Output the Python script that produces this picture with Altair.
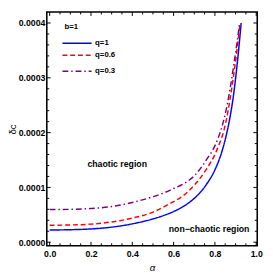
import altair as alt
import pandas as pd

# ---- data ----
alpha_q1 = [0, 0.1, 0.2, 0.3, 0.4, 0.5, 0.55, 0.6, 0.65, 0.7, 0.76, 0.8, 0.836, 0.858, 0.875, 0.89, 0.905, 0.916, 0.927]
delta_q1 = [22.3, 22.8, 24.2, 27.5, 33.5, 42.5, 48.5, 56, 66, 80, 106, 132, 168, 200, 232, 268, 315, 355, 400]

alpha_q06 = [0, 0.1, 0.2, 0.3, 0.4, 0.5, 0.56, 0.6, 0.65, 0.7, 0.76, 0.8, 0.82, 0.843, 0.858, 0.872, 0.889, 0.905, 0.922]
delta_q06 = [31, 31.5, 33, 37, 44, 55, 66, 74, 86, 104, 134, 160, 178, 203, 228, 258, 300, 345, 400]

alpha_q03 = [0, 0.1, 0.2, 0.3, 0.4, 0.5, 0.56, 0.6, 0.65, 0.7, 0.76, 0.805, 0.825, 0.845, 0.858, 0.87, 0.88, 0.89, 0.9, 0.91, 0.92]
delta_q03 = [59.5, 60, 61.5, 65, 72.5, 83, 91, 98, 107, 121, 151, 180, 200, 226, 248, 272, 295, 320, 345, 372, 400]

series_names = ["q=1", "q=0.6", "q=0.3"]
series_colors = ["#0000ff", "#ff0000", "#800080"]
series_dash = [[1, 0], [5, 3], [6, 3, 1.5, 3]]

x_major = [0.0, 0.2, 0.4, 0.6, 0.8, 1.0]
x_minor = [0.05, 0.1, 0.15, 0.25, 0.3, 0.35, 0.45, 0.5, 0.55, 0.65, 0.7, 0.75, 0.85, 0.9, 0.95]
y_major = [0.0, 0.0001, 0.0002, 0.0003, 0.0004]
y_minor = [0.00002, 0.00004, 0.00006, 0.00008, 0.00012, 0.00014, 0.00016, 0.00018,
           0.00022, 0.00024, 0.00026, 0.00028, 0.00032, 0.00034, 0.00036, 0.00038]

# ---- build table ----
rows = []
for name, al, de in [("q=1", alpha_q1, delta_q1), ("q=0.6", alpha_q06, delta_q06), ("q=0.3", alpha_q03, delta_q03)]:
    for a, d in zip(al, de):
        rows.append({"alpha": a, "delta": d * 1e-6, "q": name})
df = pd.DataFrame(rows)

W, H = 217, 241
xs = alt.Scale(domain=[-0.014, 1.005], nice=False, zero=False)
ys = alt.Scale(domain=[-0.0000065, 0.00042], nice=False, zero=False)
FONT = "Liberation Sans"

xaxis = alt.Axis(values=x_major, format=".1f", ticks=False, domain=False, grid=False,
                 labelFont=FONT, labelFontSize=9, labelFontWeight="bold", labelColor="black",
                 labelPadding=4, title="α", titleFont=FONT, titleFontSize=10,
                 titleFontStyle="italic", titleFontWeight="normal", titlePadding=5, titleColor="black")
yaxis = alt.Axis(values=y_major, format=".4f", ticks=False, domain=False, grid=False,
                 labelFont=FONT, labelFontSize=9, labelFontWeight="bold", labelColor="black",
                 labelPadding=2, title="δc", titleFont=FONT, titleFontSize=10,
                 titleFontWeight="normal", titlePadding=1, titleColor="black")

lines = alt.Chart(df).mark_line(strokeWidth=1.5, clip=True, interpolate="monotone").encode(
    x=alt.X("alpha:Q", scale=xs, axis=xaxis),
    y=alt.Y("delta:Q", scale=ys, axis=yaxis),
    color=alt.Color("q:N", scale=alt.Scale(domain=series_names, range=series_colors), legend=None),
    strokeDash=alt.StrokeDash("q:N", scale=alt.Scale(domain=series_names, range=series_dash), legend=None),
    detail="q:N",
)

def xticks(vals, length):
    d = pd.DataFrame({"v": vals})
    bottom = alt.Chart(d).mark_rule(color="black", strokeWidth=1).encode(
        x=alt.X("v:Q", scale=xs), y=alt.value(H), y2=alt.value(H - length))
    top = alt.Chart(d).mark_rule(color="black", strokeWidth=1).encode(
        x=alt.X("v:Q", scale=xs), y=alt.value(0), y2=alt.value(length))
    return [bottom, top]

def yticks(vals, length):
    d = pd.DataFrame({"v": vals})
    left = alt.Chart(d).mark_rule(color="black", strokeWidth=1).encode(
        y=alt.Y("v:Q", scale=ys), x=alt.value(0), x2=alt.value(length))
    right = alt.Chart(d).mark_rule(color="black", strokeWidth=1).encode(
        y=alt.Y("v:Q", scale=ys), x=alt.value(W), x2=alt.value(W - length))
    return [left, right]

tick_layers = xticks(x_major, 4) + xticks(x_minor, 2.5) + yticks(y_major, 4) + yticks(y_minor, 2.5)

# legend (drawn inside the frame)
leg = pd.DataFrame({"q": series_names, "ly": [0.000363, 0.000341, 0.000312]})
leg_lines = alt.Chart(leg).mark_rule(strokeWidth=1.5).encode(
    x=alt.datum(0.062, scale=xs), x2=alt.datum(0.203),
    y=alt.Y("ly:Q", scale=ys),
    color=alt.Color("q:N", scale=alt.Scale(domain=series_names, range=series_colors), legend=None),
    strokeDash=alt.StrokeDash("q:N", scale=alt.Scale(domain=series_names, range=series_dash), legend=None),
)
leg_text = alt.Chart(leg).mark_text(align="left", baseline="middle", font=FONT, fontSize=8,
                                    fontWeight="bold", color="black").encode(
    x=alt.datum(0.22, scale=xs), y=alt.Y("ly:Q", scale=ys), text="q:N")
b_text = alt.Chart(pd.DataFrame({"t": ["b=1"]})).mark_text(
    align="left", baseline="middle", font=FONT, fontSize=8, fontWeight="bold", color="black").encode(
    x=alt.datum(0.072, scale=xs), y=alt.datum(0.000393, scale=ys), text="t:N")

region = pd.DataFrame({"t": ["chaotic region", "non\u2212chaotic region"],
                       "rx": [0.327, 0.772], "ry": [0.000142, 0.0000235]})
region_text = alt.Chart(region).mark_text(align="center", baseline="middle", font=FONT, fontSize=9,
                                          fontWeight="bold", color="black").encode(
    x=alt.X("rx:Q", scale=xs), y=alt.Y("ry:Q", scale=ys), text="t:N")

chart = alt.layer(lines, *tick_layers, leg_lines, leg_text, b_text, region_text).resolve_scale(
    color="shared", strokeDash="shared"
).properties(
    width=W, height=H,
    autosize=alt.AutoSizeParams(type="none"),
    padding={"left": 40, "top": 0, "right": 8, "bottom": 27},
    background="white",
).configure_view(stroke="black", strokeWidth=1.6)

chart.save("out.html", embed_options={"renderer": "svg", "actions": False})
